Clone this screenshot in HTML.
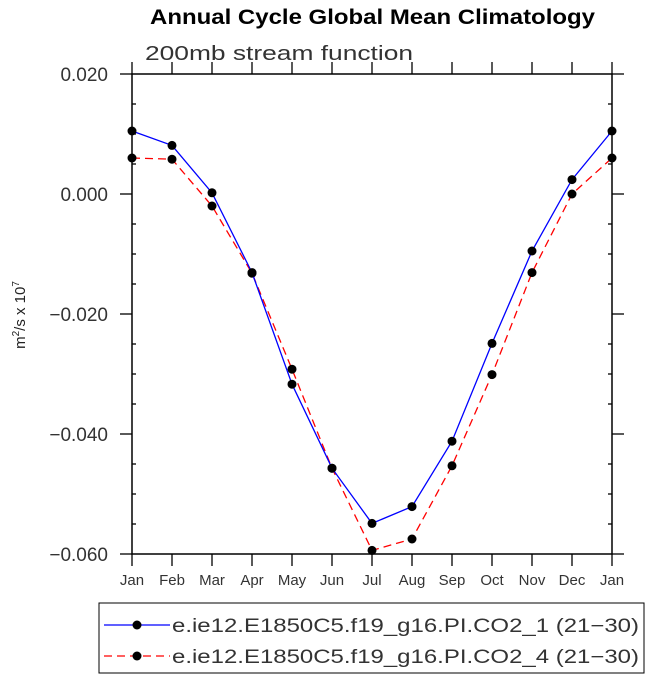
<!DOCTYPE html>
<html><head><meta charset="utf-8"><style>
body{margin:0;background:#fff;width:649px;height:679px;overflow:hidden}
svg text{font-family:"Liberation Sans",sans-serif}
</style></head><body>
<svg id="chart" width="649" height="679">
<text x="150" y="24" font-size="21" font-weight="bold" textLength="445" lengthAdjust="spacingAndGlyphs">Annual Cycle Global Mean Climatology</text>
<text x="145" y="60" font-size="20" fill="#333" textLength="268" lengthAdjust="spacingAndGlyphs">200mb stream function</text>
<text transform="translate(25,315) rotate(-90)" font-size="15" fill="#222" text-anchor="middle">m<tspan dy="-6" font-size="10">2</tspan><tspan dy="6">/s x 10</tspan><tspan dy="-6" font-size="10">7</tspan></text>
<g id="axes"></g><g id="series"></g>
<g>
<rect x="99" y="603" width="545" height="70" fill="#fff" stroke="#000"/>
<line x1="104" y1="625" x2="170" y2="625" stroke="#00f" stroke-width="1.3"/>
<circle cx="137" cy="625" r="4.5"/>
<text x="172" y="632" font-size="19" fill="#333" textLength="467" lengthAdjust="spacingAndGlyphs">e.ie12.E1850C5.f19_g16.PI.CO2_1 (21−30)</text>
<line x1="104" y1="656" x2="170" y2="656" stroke="#f00" stroke-width="1.3" stroke-dasharray="8,5"/>
<circle cx="137" cy="656" r="4.5"/>
<text x="172" y="663" font-size="19" fill="#333" textLength="467" lengthAdjust="spacingAndGlyphs">e.ie12.E1850C5.f19_g16.PI.CO2_4 (21−30)</text>
</g>
</svg>
<script>
const months=["Jan","Feb","Mar","Apr","May","Jun","Jul","Aug","Sep","Oct","Nov","Dec","Jan"];
const co2_1=[0.0105,0.0081,0.0002,-0.0131,-0.0317,-0.0457,-0.0549,-0.0521,-0.0412,-0.0249,-0.0095,0.0024,0.0105];
const co2_4=[0.0060,0.0058,-0.0020,-0.0132,-0.0292,-0.0457,-0.0594,-0.0575,-0.0453,-0.0301,-0.0131,0.0000,0.0060];
const yTicks=[0.020,0.000,-0.020,-0.040,-0.060];
const yTickLabels=["0.020","0.000","−0.020","−0.040","−0.060"];
const L=132,R=612,T=74,B=554,ymax=0.02,ymin=-0.06;
const X=i=>L+i*(R-L)/(months.length-1);
const Y=v=>T+(ymax-v)/(ymax-ymin)*(B-T);
const NS="http://www.w3.org/2000/svg";
function mk(p,t,a){const e=document.createElementNS(NS,t);for(const k in a)e.setAttribute(k,a[k]);p.appendChild(e);return e;}
const ax=document.getElementById('axes');
const f=mk(ax,'rect',{x:L,y:T,width:R-L,height:B-T,fill:'none',stroke:'#000','stroke-width':1.5});


for(let v=ymax;v>=ymin-1e-9;v-=0.005){
  const y=Y(v);const maj=Math.abs(Math.round(v*1000)%20)<1e-6;
  const len=maj?12:4;
  const t1=mk(ax,'line',{x1:maj?L-len:L,y1:y,x2:maj?L:L+len,y2:y,stroke:'#000','stroke-width':1.3});
  
  
  const t2=mk(ax,'line',{x1:maj?R:R-len,y1:y,x2:maj?R+len:R,y2:y,stroke:'#000','stroke-width':1.3});
  
  
}
yTicks.forEach((v,i)=>{
  const t=mk(ax,'text',{x:L-24,y:Y(v)+7,'font-size':19,'text-anchor':'end',fill:'#333'});
  t.textContent=yTickLabels[i];
  
  
});
months.forEach((m,i)=>{
  const x=X(i);
  const a=mk(ax,'line',{x1:x,y1:B,x2:x,y2:B+12,stroke:'#000','stroke-width':1.3});
  
  
  const b=mk(ax,'line',{x1:x,y1:T-12,x2:x,y2:T,stroke:'#000','stroke-width':1.3});
  
  
  const t=mk(ax,'text',{x:x,y:B+31,'font-size':15,'text-anchor':'middle',fill:'#333'});
  t.textContent=m;
  
  
});
const sg=document.getElementById('series');
function draw(vals,color,dash,name){
  const pl=mk(sg,'polyline',{points:vals.map((v,i)=>X(i)+','+Y(v)).join(' '),fill:'none',stroke:color,'stroke-width':1.3,'stroke-dasharray':dash});
  
  
  vals.forEach((v,i)=>{
    const c=mk(sg,'circle',{cx:X(i),cy:Y(v),r:4.5,fill:'#000'});
    
    
  });
}
draw(co2_4,'#f00','8,5','co2-4');
draw(co2_1,'#00f','none','co2-1');
</script>
</body></html>
